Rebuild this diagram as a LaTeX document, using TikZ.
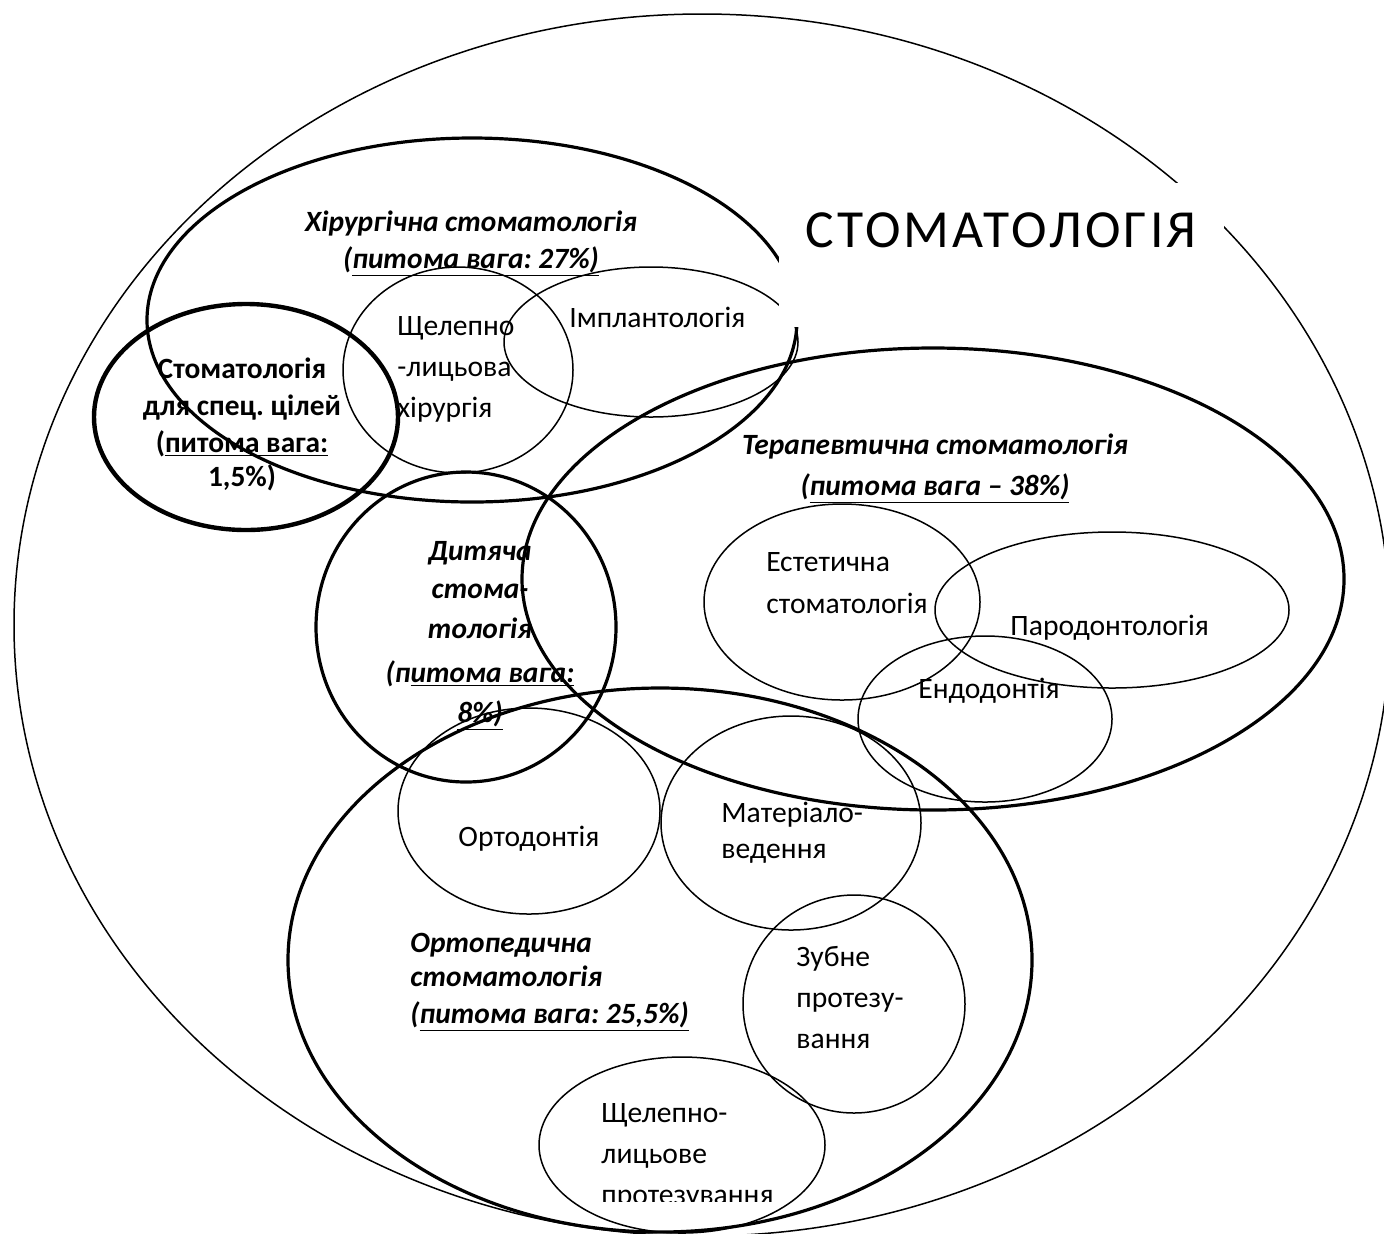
\documentclass[tikz,border=0pt]{standalone}
\usepackage{fontspec}
\setmainfont{Carlito}
\frenchspacing
\begin{document}
\begin{tikzpicture}[x=0.5pt,y=-0.5pt,
  thinline/.style={line width=0.75pt},
  thickline/.style={line width=1.6pt},
  heavyline/.style={line width=2.2pt},
  lbl/.style={inner sep=0pt, font=\fontsize{14.8}{17}\selectfont},
  lblw/.style={lbl, anchor=base west},
  bilbl/.style={inner sep=0pt, anchor=base, font=\fontsize{14.7}{17}\selectfont\bfseries\itshape},
  bilblw/.style={bilbl, anchor=base west},
  blbl/.style={inner sep=0pt, anchor=base, font=\fontsize{14.7}{17}\selectfont\bfseries}]
\useasboundingbox (0,0) rectangle (1384,1233);
\clip (0,0) rectangle (1384,1233);
% outer
\draw[thinline] (702,625) ellipse [x radius=688, y radius=611];
% main groups
\draw[thickline] (472,320) ellipse [x radius=325, y radius=182];
\draw[heavyline] (246,417) ellipse [x radius=152, y radius=113];
\draw[thinline] (458,370) ellipse [x radius=115, y radius=103];
\draw[thinline] (651,342) ellipse [x radius=147, y radius=75];
\draw[thickline] (933,579) ellipse [x radius=411, y radius=231];
\draw[thickline] (466,627) ellipse [x radius=150, y radius=155];
\draw[thickline] (660,960) ellipse [x radius=372, y radius=272];
% subgroups
\draw[thinline] (842,602) ellipse [x radius=138, y radius=98];
\draw[thinline] (1112,610) ellipse [x radius=177, y radius=78];
\draw[thinline] (985,719) ellipse [x radius=127, y radius=83];
\draw[thinline] (529,811) ellipse [x radius=131, y radius=103];
\draw[thinline] (791,823) ellipse [x radius=130, y radius=107];
\draw[thinline] (854,1004) ellipse [x radius=111, y radius=109];
\draw[thinline] (682,1145) ellipse [x radius=143, y radius=88];
% title box
\fill[white] (779,183) rectangle (1224,327);
\node[inner sep=0pt, anchor=base west, font=\fontsize{26.8}{30}\selectfont\addfontfeature{LetterSpace=6}] (title) at (805,247) {СТОМАТОЛОГІЯ};
% Хірургічна
\node[bilbl] (hir1) at (471,231) {Хірургічна стоматологія};
\node[bilbl] (hir2) at (471,268) {(\underline{питома вага: 27\%)}};
% спец
\node[blbl] (sp1) at (242,378) {Стоматологія};
\node[blbl] (sp2) at (242,415) {для спец. цілей};
\node[blbl] (sp3) at (242,452) {(\underline{питома вага:}};
\node[blbl] (sp4) at (242,486) {1,5\%)};
% щелепно-лицьова
\node[lblw] (sh1) at (397,335) {Щелепно};
\node[lblw] (sh2) at (397,376) {-лицьова};
\node[lblw] (sh3) at (397,417) {хірургія};
\node[lblw] (impl) at (569,327) {Імплантологія};
% Дитяча
\node[bilbl] (dy1) at (480,560) {Дитяча};
\node[bilbl] (dy2) at (480,598) {стома-};
\node[bilbl] (dy3) at (480,638) {тологія};
\node[bilbl] (dy4) at (480,682) {(п\underline{итома вага:}};
\node[bilbl] (dy5) at (480,722) {\underline{8\%)}};
% Терапевтична
\node[bilbl] (ter1) at (935,454) {Терапевтична стоматологія};
\node[bilbl] (ter2) at (935,495) {(\underline{питома вага – 38\%)}};
\node[lblw] (est1) at (766,571) {Естетична};
\node[lblw] (est2) at (766,613) {стоматологія};
\node[lblw] (par) at (1010,635) {Пародонтологія};
\node[lblw] (endo) at (918,698) {Ендодонтія};
% Ортопедична
\node[lblw] (orto) at (458,846) {Ортодонтія};
\node[lblw] (mat1) at (721,822) {Матеріало-};
\node[lblw] (mat2) at (721,858) {ведення};
\node[bilblw] (op1) at (410,952) {Ортопедична};
\node[bilblw] (op2) at (410,986) {стоматологія};
\node[bilblw] (op3) at (410,1023) {(\underline{питома вага: 25,5\%)}};
\node[lblw] (zub1) at (796,966) {Зубне};
\node[lblw] (zub2) at (796,1007) {протезу-};
\node[lblw] (zub3) at (796,1048) {вання};
\node[lblw] (shp1) at (601,1122) {Щелепно-};
\node[lblw] (shp2) at (601,1163) {лицьове};
\begin{scope}
\clip (540,1150) rectangle (830,1201);
\node[lblw] (shp3) at (601,1204) {протезування};
\end{scope}
\end{tikzpicture}
\end{document}
